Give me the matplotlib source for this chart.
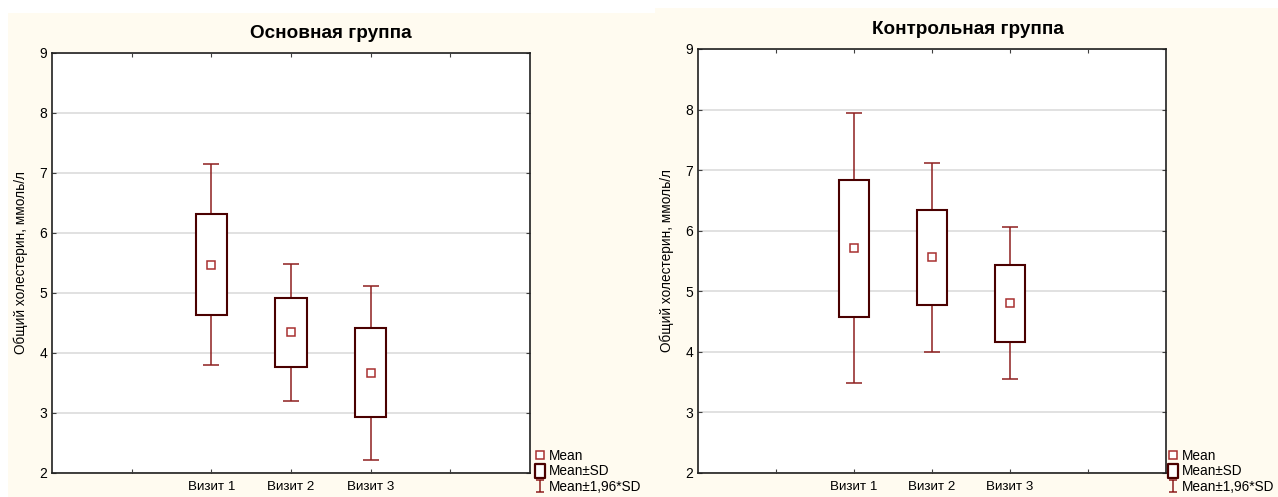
import numpy as np
import matplotlib.pyplot as plt
from matplotlib.patches import Rectangle
from matplotlib.lines import Line2D
from matplotlib.path import Path

plt.rcParams['font.family'] = ['Liberation Sans', 'DejaVu Sans']

# DATA
visits = ["Визит 1", "Визит 2", "Визит 3"]
titles = ["Основная группа", "Контрольная группа"]
ylabel = "Общий холестерин, ммоль/л"

main_mean = [5.47, 4.35, 3.67]
main_sd_lo = [4.63, 3.77, 2.94]
main_sd_hi = [6.32, 4.92, 4.41]
main_ci_lo = [3.80, 3.20, 2.22]
main_ci_hi = [7.15, 5.49, 5.12]

ctrl_mean = [5.71, 5.56, 4.81]
ctrl_sd_lo = [4.57, 4.77, 4.16]
ctrl_sd_hi = [6.84, 6.34, 5.43]
ctrl_ci_lo = [3.48, 4.00, 3.55]
ctrl_ci_hi = [7.94, 7.12, 6.06]

legend_labels = ["Mean", "Mean±SD", "Mean±1,96*SD"]

# STYLE
W, H = 1278, 497
cream = "#fffbf0"
box_col = "#4a0000"
whisk_col = "#8e1f1f"
mean_col = "#a83030"

fig = plt.figure(figsize=(W / 100, H / 100), dpi=100, facecolor="white")

# panel backgrounds (figure pixels)
fig.patches.append(Rectangle((8 / W, 0), (655 - 8) / W, (H - 13) / H,
                             transform=fig.transFigure, facecolor=cream,
                             edgecolor="none", zorder=-10))
fig.patches.append(Rectangle((655 / W, 0), (W - 655) / W, (H - 8) / H,
                             transform=fig.transFigure, facecolor=cream,
                             edgecolor="none", zorder=-10))

# legend glyphs
ibeam = Path([(-0.6, 1), (0.6, 1), (0, 1), (0, -1), (-0.6, -1), (0.6, -1)],
             [Path.MOVETO, Path.LINETO, Path.MOVETO, Path.LINETO, Path.MOVETO, Path.LINETO])
rect = Path([(-0.38, -0.5), (0.38, -0.5), (0.38, 0.5), (-0.38, 0.5), (-0.38, -0.5)],
            [Path.MOVETO, Path.LINETO, Path.LINETO, Path.LINETO, Path.CLOSEPOLY])


def draw_panel(rect_px, mean, sd_lo, sd_hi, ci_lo, ci_hi, title, title_xy, legend_x):
    x0, top, x1, bottom = rect_px
    ax = fig.add_axes([x0 / W, 1 - bottom / H, (x1 - x0) / W, (bottom - top) / H])
    ax.set_facecolor("white")
    pos = np.arange(2, 2 + len(visits))
    bw = 0.39
    cw = 0.2

    # whiskers
    ax.vlines(pos, sd_hi, ci_hi, color=whisk_col, lw=1.1, zorder=3)
    ax.vlines(pos, ci_lo, sd_lo, color=whisk_col, lw=1.1, zorder=3)
    ax.hlines(ci_hi, pos - cw / 2, pos + cw / 2, color=whisk_col, lw=1.1, zorder=3)
    ax.hlines(ci_lo, pos - cw / 2, pos + cw / 2, color=whisk_col, lw=1.1, zorder=3)

    # boxes
    for p, lo, hi in zip(pos, sd_lo, sd_hi):
        ax.add_patch(Rectangle((p - bw / 2, lo), bw, hi - lo, facecolor="white",
                               edgecolor=box_col, lw=1.5, zorder=4))
    ax.plot(pos, mean, ls="none", marker="s", ms=5.5, mfc="white",
            mec=mean_col, mew=1.1, zorder=5)

    ax.set_xlim(0, 6)
    ax.set_ylim(2, 9)
    ax.set_xticks([1, 2, 3, 4, 5])
    ax.set_xticklabels([""] + visits + [""])
    ax.set_yticks(range(2, 10))
    ax.tick_params(axis="both", direction="in", length=3, top=True, right=True,
                   labelsize=10, color="#404040")
    ax.tick_params(axis="x", pad=6, labelsize=9.6)
    ax.grid(axis="y", color="#dedede", lw=1.3, zorder=0)
    ax.set_axisbelow(True)
    for s in ax.spines.values():
        s.set_linewidth(1.2)
        s.set_color("#202020")
    ax.set_ylabel(ylabel, fontsize=9.8, labelpad=8)

    fig.text(title_xy[0] / W, 1 - title_xy[1] / H, title, fontsize=13.6,
             fontweight="bold", ha="center", va="center")

    handles = [
        Line2D([], [], ls="none", marker="s", ms=5.5, mfc="white", mec=mean_col, mew=1.1),
        Line2D([], [], ls="none", marker=rect, ms=9.5, mfc="white", mec=box_col, mew=1.6),
        Line2D([], [], ls="none", marker=ibeam, ms=8.5, mfc="none", mec=whisk_col, mew=1.1),
    ]
    ax.legend(handles, legend_labels, loc="lower left",
              bbox_to_anchor=(legend_x / W, 3 / H), bbox_transform=fig.transFigure,
              frameon=False, fontsize=9.8, handlelength=0.7, handletextpad=0.35,
              labelspacing=0.12, borderpad=0, borderaxespad=0)
    return ax


draw_panel((52, 53, 530, 473), main_mean, main_sd_lo, main_sd_hi, main_ci_lo,
           main_ci_hi, titles[0], (331, 33), 535)
draw_panel((698, 49, 1166, 473), ctrl_mean, ctrl_sd_lo, ctrl_sd_hi, ctrl_ci_lo,
           ctrl_ci_hi, titles[1], (968, 30), 1168)

fig.savefig("out.png", dpi=100, facecolor="white")
